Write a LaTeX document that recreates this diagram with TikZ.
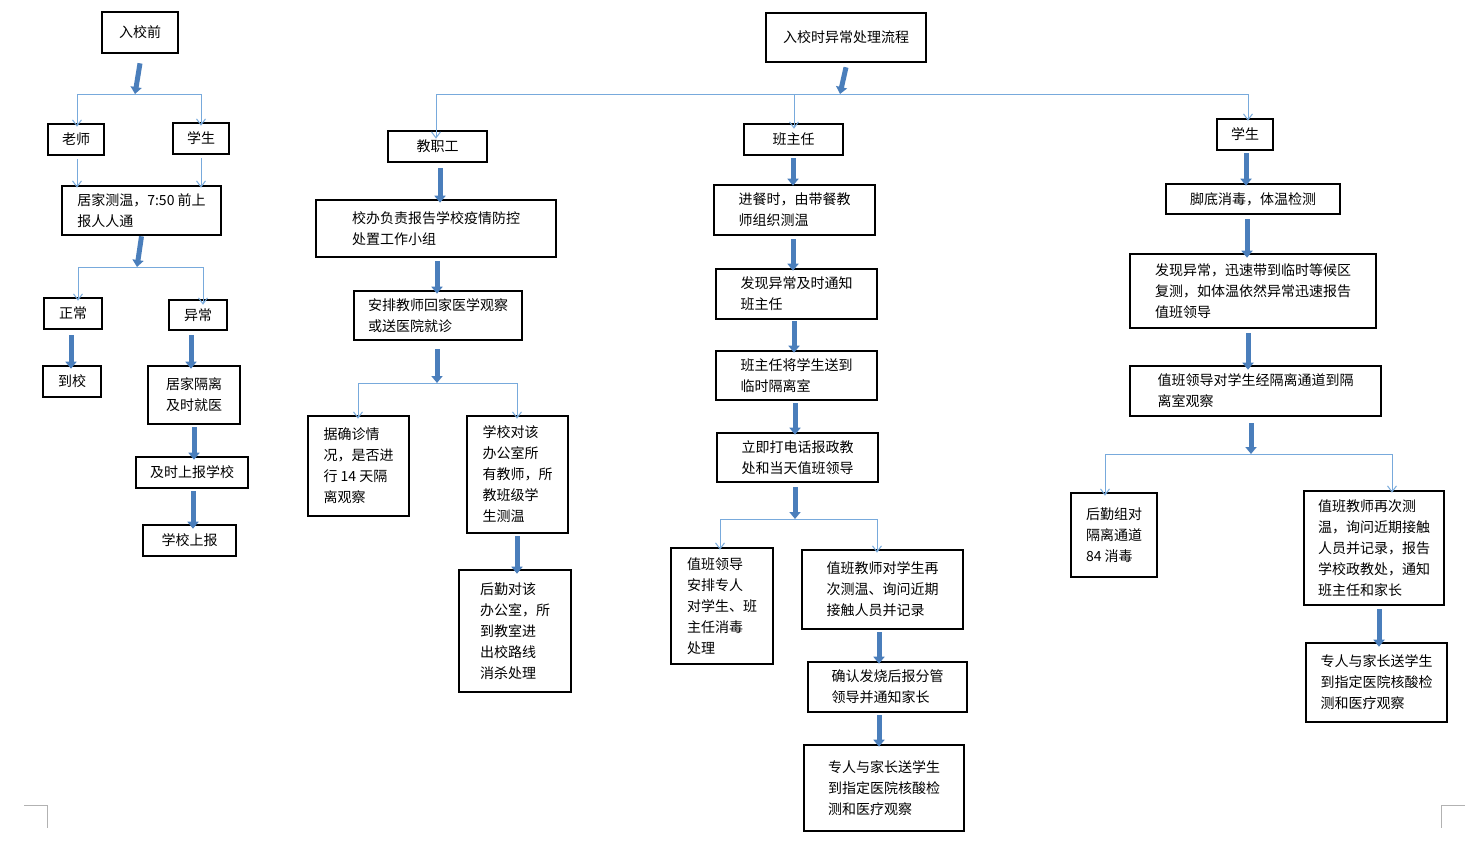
\documentclass[tikz,border=0pt]{standalone}
\usepackage{fontspec}
\setmainfont{Noto Sans CJK SC}
\usetikzlibrary{arrows.meta}
\definecolor{tb}{RGB}{74,126,187}
\definecolor{lb}{RGB}{120,170,220}
\begin{document}
\begin{tikzpicture}[x=1pt,y=-1pt,
 box/.style={draw,line width=2.6pt,align=left,inner sep=0pt,font=\fontsize{14}{21}\selectfont},
 thick/.style={draw=tb!80!black,line width=5pt,-{Triangle[width=11pt,length=7pt]},color=tb},
 thin/.style={draw=lb,line width=1pt,-{Straight Barb[width=9pt,length=6pt]}},
 br/.style={draw=lb,line width=1pt}]
\useasboundingbox (0,0) rectangle (1466,847);
\newcommand\bx[6]{\node[box,minimum width={(#4-#2)*1pt},minimum height={(#5-#3)*1pt}] (#1) at ({(#2+#4)/2},{(#3+#5)/2}) {#6};}
\bx{a1}{102}{12}{178}{53}{入校前}
\bx{a2}{48}{124}{104}{155}{老师}
\bx{a3}{173}{123}{229}{154}{学生}
\bx{a4}{62}{186}{221}{235}{居家测温，7:50 前上\\报人人通}
\bx{a5}{44}{298}{102}{329}{正常}
\bx{a6}{169}{300}{227}{330}{异常}
\bx{a7}{43}{366}{101}{397}{到校}
\bx{a8}{148}{366}{240}{424}{居家隔离\\及时就医}
\bx{a9}{136}{457}{248}{488}{及时上报学校}
\bx{a10}{143}{525}{236}{556}{学校上报}
\bx{b0}{766}{13}{926}{62}{入校时异常处理流程}
\bx{b1}{388}{131}{487}{162}{教职工}
\bx{b2}{316}{200}{556}{257}{校办负责报告学校疫情防控\\处置工作小组}
\bx{b3}{354}{291}{522}{340}{安排教师回家医学观察\\或送医院就诊}
\bx{b4}{308}{416}{409}{516}{据确诊情\\况，是否进\\行 14 天隔\\离观察}
\bx{b5}{467}{416}{568}{533}{学校对该\\办公室所\\有教师，所\\教班级学\\生测温}
\bx{b6}{459}{570}{571}{692}{后勤对该\\办公室，所\\到教室进\\出校路线\\消杀处理}
\bx{c1}{744}{124}{843}{155}{班主任}
\bx{c2}{714}{185}{875}{235}{进餐时，由带餐教\\师组织测温}
\bx{c3}{716}{269}{877}{319}{发现异常及时通知\\班主任}
\bx{c4}{716}{351}{877}{400}{班主任将学生送到\\临时隔离室}
\bx{c5}{717}{433}{878}{482}{立即打电话报政教\\处和当天值班领导}
\bx{c6}{671}{548}{773}{664}{值班领导\\安排专人\\对学生、班\\主任消毒\\处理}
\bx{c7}{802}{550}{963}{629}{值班教师对学生再\\次测温、询问近期\\接触人员并记录}
\bx{c8}{808}{662}{967}{712}{确认发烧后报分管\\领导并通知家长}
\bx{c9}{804}{745}{964}{831}{专人与家长送学生\\到指定医院核酸检\\测和医疗观察}
\bx{d1}{1217}{119}{1273}{150}{学生}
\bx{d2}{1166}{184}{1340}{214}{脚底消毒，体温检测}
\bx{d3}{1130}{254}{1376}{328}{发现异常，迅速带到临时等候区\\复测，如体温依然异常迅速报告\\值班领导}
\bx{d4}{1130}{366}{1381}{416}{值班领导对学生经隔离通道到隔\\离室观察}
\bx{d5}{1071}{493}{1157}{577}{后勤组对\\隔离通道\\84 消毒}
\bx{d6}{1304}{491}{1444}{605}{值班教师再次测\\温，询问近期接触\\人员并记录，报告\\学校政教处，通知\\班主任和家长}
\bx{d7}{1306}{643}{1447}{722}{专人与家长送学生\\到指定医院核酸检\\测和医疗观察}
% branch coordinates
\coordinate (ka) at (135,94); \coordinate (kb) at (137,267);
\coordinate (kc) at (840,94); \coordinate (kd) at (437,383);
\coordinate (ke) at (795,519); \coordinate (kf) at (1251,454);
% left column
\draw[thick] ([yshift=-9pt]a1.south) -- (ka);
\draw[br] (77,94) -- (201,94);
\draw[thin] (77,94) -- ([yshift=-4pt]a2.north-|77,0);
\draw[thin] (201,94) -- ([yshift=-4pt]a3.north-|201,0);
\draw[thin] ([yshift=-3pt]a2.south-|77,0) -- ([yshift=-3pt]a4.north-|77,0);
\draw[thin] ([yshift=-3pt]a3.south-|201,0) -- ([yshift=-3pt]a4.north-|201,0);
\draw[thick] (a4.south) -- (kb);
\draw[br] (78,267) -- (203,267);
\draw[thin] (78,267) -- ([yshift=-4pt]a5.north-|78,0);
\draw[thin] (203,267) -- ([yshift=-6pt]a6.north-|203,0);
\draw[thick] ([yshift=-5pt]a5.south-|71,0) -- ([yshift=-4pt]a7.north-|71,0);
\draw[thick] ([yshift=-4pt]a6.south-|191,0) -- ([yshift=-4pt]a8.north-|191,0);
\draw[thick] ([yshift=-2pt]a8.south-|194,0) -- ([yshift=-4pt]a9.north-|194,0);
\draw[thick] ([yshift=-2pt]a9.south-|193,0) -- ([yshift=-5pt]a10.north-|193,0);
% top
\draw[thick] ([yshift=-4pt]b0.south) -- (kc);
\draw[br] (436,94) -- (1248,94);
\draw[thin] (436,94) -- ([yshift=-9pt]b1.north-|436,0);
\draw[thin] (794,94) -- ([yshift=-6pt]c1.north-|794,0);
\draw[thin] (1248,94) -- ([yshift=-3pt]d1.north-|1248,0);
% staff column
\draw[thick] ([yshift=-5pt]b1.south-|440,0) -- ([yshift=-4pt]b2.north-|440,0);
\draw[thick] ([yshift=-3pt]b2.south-|437,0) -- ([yshift=-4pt]b3.north-|437,0);
\draw[thick] ([yshift=-8pt]b3.south-|437,0) -- (kd);
\draw[br] (358,383) -- (517,383);
\draw[thin] (358,383) -- ([yshift=-4pt]b4.north-|358,0);
\draw[thin] (517,383) -- ([yshift=-4pt]b5.north-|517,0);
\draw[thick] ([yshift=-2pt]b5.south-|517,0) -- ([yshift=-5pt]b6.north-|517,0);
% head teacher column
\draw[thick] ([yshift=-2pt]c1.south-|793,0) -- ([yshift=-2pt]c2.north-|793,0);
\draw[thick] ([yshift=-3pt]c2.south-|793,0) -- ([yshift=-3pt]c3.north-|793,0);
\draw[thick] ([yshift=-1pt]c3.south-|794,0) -- ([yshift=-3pt]c4.north-|794,0);
\draw[thick] ([yshift=-2pt]c4.south-|795,0) -- ([yshift=-3pt]c5.north-|795,0);
\draw[thick] ([yshift=-4pt]c5.south-|795,0) -- (ke);
\draw[br] (720,519) -- (877,519);
\draw[thin] (720,519) -- ([yshift=-3pt]c6.north-|720,0);
\draw[thin] (877,519) -- ([yshift=-4pt]c7.north-|877,0);
\draw[thick] ([yshift=-2pt]c7.south-|879,0) -- ([yshift=-3pt]c8.north-|879,0);
\draw[thick] ([yshift=-2pt]c8.south-|879,0) -- ([yshift=-3pt]c9.north-|879,0);
% student column
\draw[thick] ([yshift=-2pt]d1.south-|1246,0) -- ([yshift=-3pt]d2.north-|1246,0);
\draw[thick] ([yshift=-4pt]d2.south-|1247,0) -- ([yshift=-5pt]d3.north-|1247,0);
\draw[thick] ([yshift=-4pt]d3.south-|1248,0) -- ([yshift=-5pt]d4.north-|1248,0);
\draw[thick] ([yshift=-6pt]d4.south-|1251,0) -- (kf);
\draw[br] (1105,454) -- (1392,454);
\draw[thin] (1105,454) -- ([yshift=-4pt]d5.north-|1105,0);
\draw[thin] (1392,454) -- ([yshift=-3pt]d6.north-|1392,0);
\draw[thick] ([yshift=-3pt]d6.south-|1379,0) -- ([yshift=-5pt]d7.north-|1379,0);
% page corner marks
\draw[gray!60,line width=0.8pt] (24,805) -- (47,805) -- (47,828);
\draw[gray!60,line width=0.8pt] (1465,805) -- (1441,805) -- (1441,828);
\end{tikzpicture}
\end{document}
